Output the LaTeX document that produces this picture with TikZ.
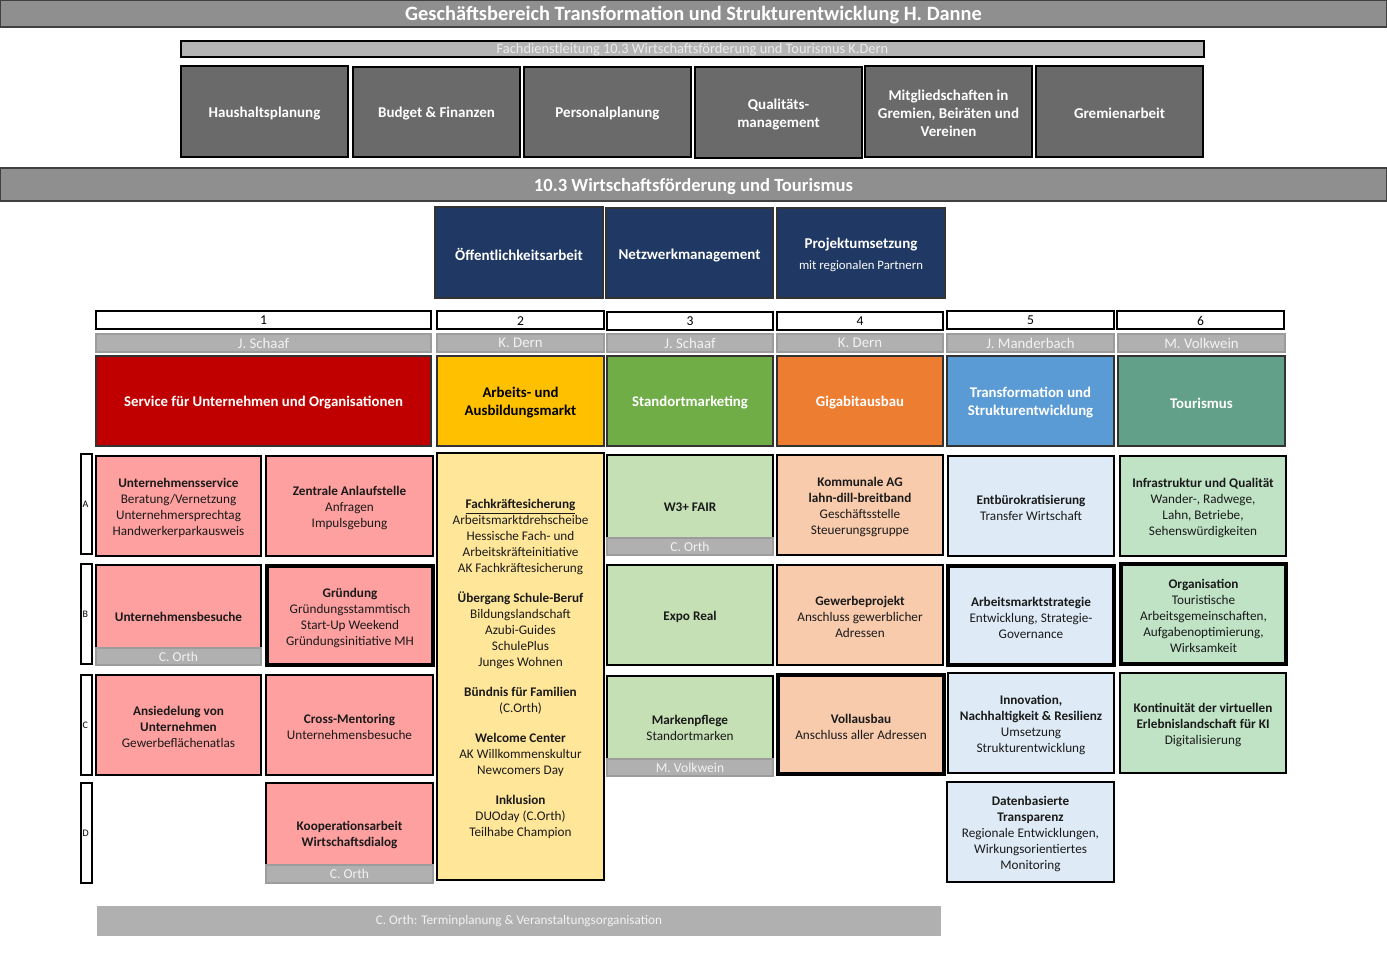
\documentclass[tikz,border=0pt]{standalone}
\usepackage{fontspec}
\setmainfont{Carlito}
\definecolor{barGray}{HTML}{8F8F8F}
\definecolor{fdGray}{HTML}{B4B4B4}
\definecolor{darkBox}{HTML}{6A6A6A}
\definecolor{navy}{HTML}{1F3864}
\definecolor{nameGray}{HTML}{B0B0B0}
\definecolor{nameBorder}{HTML}{9C9C9C}
\definecolor{hRed}{HTML}{C00000}
\definecolor{hYellow}{HTML}{FFC000}
\definecolor{hGreen}{HTML}{70AD47}
\definecolor{hOrange}{HTML}{ED7D31}
\definecolor{hBlue}{HTML}{5B9BD5}
\definecolor{hTeal}{HTML}{62A089}
\definecolor{cPink}{HTML}{FFA0A0}
\definecolor{cYellow}{HTML}{FFE699}
\definecolor{cGreen}{HTML}{C5E0B4}
\definecolor{cOrange}{HTML}{F8CBAD}
\definecolor{cBlue}{HTML}{DEEBF7}
\definecolor{cMint}{HTML}{C0E3C6}
\definecolor{textDark}{HTML}{1A1A1A}
\newcommand\myfs[2]{\fontsize{#1}{#2}\selectfont}
\newcommand\bx[7]{%
  \node[#6, minimum width={(#4-#2)*0.5pt}, minimum height={(#5-#3)*0.5pt}] (#1) at ({(#2+#4)/2},{(#3+#5)/2}) {};
  \node[#6, draw=none, fill=none, minimum width=0pt, minimum height=0pt, tnode] (#1-t) at (#1.center) {#7};}
\tikzset{
  tnode/.style={yshift=-1pt},
  base/.style={inner sep=0pt, outer sep=0pt, align=center, line width=1pt, draw=black},
  topbar/.style={base, fill=barGray, draw=black!75, text=white, font=\bfseries\myfs{10.2}{12}},
  fdbar/.style={base, fill=fdGray, draw=black, line width=1.2pt, text=white!92!black, font=\myfs{7.2}{8}, tnode/.style={yshift=-0.3pt}},
  darkbox/.style={base, fill=darkBox, draw=black, line width=1.2pt, text=white, font=\bfseries\myfs{7.5}{9}},
  navybox/.style={base, fill=navy, draw=black!80, line width=1.2pt, text=white, font=\bfseries\myfs{7.5}{9}},
  numbox/.style={base, fill=white, draw=black, line width=1.2pt, font=\myfs{6.8}{8}, tnode/.style={yshift=-0.3pt}},
  namebar/.style={base, fill=nameGray, draw=nameBorder, text=white!95!black, font=\myfs{7.4}{8}, tnode/.style={yshift=0pt}},
  headbox/.style={base, draw=black!80, text=white, font=\bfseries\myfs{7.4}{9}},
  cell/.style={base, text=textDark, font=\myfs{6.6}{8}},
  thick cell/.style={cell, line width=2pt},
  strip/.style={base, fill=nameGray, draw=nameBorder, text=white!95!black, font=\myfs{6.8}{8}, tnode/.style={yshift=0pt}},
  rowlab/.style={base, fill=white, draw=black, line width=1.2pt},
  rowletter/.style={inner sep=0.6pt, anchor=west, font=\myfs{5}{6}},
  bottombar/.style={base, draw=none, fill=nameGray, text=white!95!black, font=\myfs{6.6}{8}, tnode/.style={yshift=0pt}}
}
\begin{document}
\begin{tikzpicture}[x=0.5pt, y=-0.5pt]
\useasboundingbox (0,0) rectangle (1387,960);
% top
\bx{top}{0}{0}{1387}{27}{topbar}{Geschäftsbereich Transformation und Strukturentwicklung H. Danne}
\bx{fd}{181}{41}{1204}{57}{fdbar}{Fachdienstleitung 10.3 Wirtschaftsförderung und Tourismus K.Dern}
\bx{d1}{181}{66}{348}{157}{darkbox}{Haushaltsplanung}
\bx{d2}{353}{67}{520}{157}{darkbox}{Budget \& Finanzen}
\bx{d3}{524}{67}{691}{157}{darkbox}{Personalplanung}
\bx{d4}{695}{67}{862}{158}{darkbox}{Qualitäts-\\management}
\bx{d5}{865}{66}{1032}{157}{darkbox}{Mitgliedschaften in\\Gremien, Beiräten und\\Vereinen}
\bx{d6}{1036}{66}{1203}{157}{darkbox}{Gremienarbeit}
\bx{wf}{0}{168}{1387}{201}{topbar, font=\bfseries\myfs{9.3}{10}}{10.3 Wirtschaftsförderung und Tourismus}
% navy
\bx{n1}{435}{207}{603}{298}{navybox}{Öffentlichkeitsarbeit}
\bx{n2}{606}{208}{773}{298}{navybox}{Netzwerkmanagement}
\bx{n3}{777}{208}{945}{298}{navybox}{Projektumsetzung\\[1.5pt]{\mdseries\myfs{6.4}{7}mit regionalen Partnern}}
% numbers
\bx{k1}{96}{311}{431}{329}{numbox}{1}
\bx{k2}{437}{311}{604}{329}{numbox}{2}
\bx{k3}{607}{312}{773}{330}{numbox}{3}
\bx{k4}{777}{312}{943}{330}{numbox}{4}
\bx{k5}{947}{311}{1114}{329}{numbox}{5}
\bx{k6}{1117}{311}{1284}{329}{numbox}{6}
% names
\bx{m1}{96}{334}{431}{352}{namebar}{J. Schaaf}
\bx{m2}{437}{334}{604}{352}{namebar}{K. Dern}
\bx{m3}{607}{334}{773}{352}{namebar}{J. Schaaf}
\bx{m4}{777}{334}{943}{352}{namebar}{K. Dern}
\bx{m5}{947}{334}{1114}{352}{namebar}{J. Manderbach}
\bx{m6}{1118}{334}{1285}{352}{namebar}{M. Volkwein}
% headers
\bx{h1}{96}{356}{431}{446}{headbox, fill=hRed}{Service für Unternehmen und Organisationen}
\bx{h2}{437}{356}{604}{446}{headbox, fill=hYellow, text=black}{Arbeits- und\\Ausbildungsmarkt}
\bx{h3}{607}{356}{773}{446}{headbox, fill=hGreen}{Standortmarketing}
\bx{h4}{777}{356}{943}{446}{headbox, fill=hOrange}{Gigabitausbau}
\bx{h5}{947}{356}{1114}{446}{headbox, fill=hBlue}{Transformation und\\Strukturentwicklung}
\bx{h6}{1118}{356}{1285}{446}{headbox, fill=hTeal}{Tourismus}
% row labels
\bx{rA}{81}{454}{92}{554}{rowlab}{}
\bx{rB}{81}{564}{92}{664}{rowlab}{}
\bx{rC}{81}{675}{92}{775}{rowlab}{}
\bx{rD}{81}{783}{92}{883}{rowlab}{}
\node[rowletter] (lA) at (rA.west) {A};
\node[rowletter] (lB) at (rB.west) {B};
\node[rowletter] (lC) at (rC.west) {C};
\node[rowletter] (lD) at (rD.west) {D};
% column 1
\bx{a1}{96}{456}{261}{556}{cell, fill=cPink}{\textbf{Unternehmensservice}\\Beratung/Vernetzung\\Unternehmersprechtag\\Handwerkerparkausweis}
\bx{a2}{266}{456}{433}{556}{cell, fill=cPink}{\textbf{Zentrale Anlaufstelle}\\Anfragen\\Impulsgebung}
\bx{b1}{96}{565}{261}{665}{cell, fill=cPink}{\textbf{Unternehmensbesuche}}
\bx{b1s}{96}{648}{261}{665}{strip}{C. Orth}
\bx{b2}{267}{566}{433}{665}{thick cell, fill=cPink}{\textbf{Gründung}\\Gründungsstammtisch\\Start-Up Weekend\\Gründungsinitiative MH}
\bx{c1}{96}{675}{261}{775}{cell, fill=cPink}{\textbf{Ansiedelung von}\\\textbf{Unternehmen}\\Gewerbeflächenatlas}
\bx{c2}{266}{675}{433}{775}{cell, fill=cPink}{\textbf{Cross-Mentoring}\\Unternehmensbesuche}
\bx{d1c}{266}{783}{433}{883}{cell, fill=cPink}{\textbf{Kooperationsarbeit}\\\textbf{Wirtschaftsdialog}}
\bx{d1s}{266}{865}{433}{883}{strip}{C. Orth}
% column 2
\bx{y}{437}{453}{604}{880}{cell, fill=cYellow}{\underline{\textbf{Fachkräftesicherung}}\\Arbeitsmarktdrehscheibe\\Hessische Fach- und\\Arbeitskräfteinitiative\\AK Fachkräftesicherung\\[7pt]\textbf{Übergang Schule-Beruf}\\Bildungslandschaft\\Azubi-Guides\\SchulePlus\\Junges Wohnen\\[7pt]\textbf{Bündnis für Familien}\\(C.Orth)\\[7pt]\textbf{Welcome Center}\\AK Willkommenskultur\\Newcomers Day\\[7pt]\textbf{Inklusion}\\DUOday (C.Orth)\\Teilhabe Champion}
% column 3
\bx{g1}{607}{455}{773}{555}{cell, fill=cGreen}{\textbf{W3+ FAIR}}
\bx{g1s}{607}{538}{773}{555}{strip}{C. Orth}
\bx{g2}{607}{565}{773}{665}{cell, fill=cGreen}{\textbf{Expo Real}}
\bx{g3}{607}{676}{773}{776}{cell, fill=cGreen}{\textbf{Markenpflege}\\Standortmarken}
\bx{g3s}{607}{759}{773}{776}{strip}{M. Volkwein}
% column 4
\bx{o1}{777}{455}{943}{555}{cell, fill=cOrange}{\textbf{Kommunale AG}\\\textbf{lahn-dill-breitband}\\Geschäftsstelle\\Steuerungsgruppe}
\bx{o2}{777}{565}{943}{665}{cell, fill=cOrange}{\textbf{Gewerbeprojekt}\\Anschluss gewerblicher\\Adressen}
\bx{o3}{778}{675}{944}{774}{thick cell, fill=cOrange}{\textbf{Vollausbau}\\Anschluss aller Adressen}
% column 5
\bx{t1}{948}{456}{1114}{556}{cell, fill=cBlue}{\textbf{Entbürokratisierung}\\Transfer Wirtschaft}
\bx{t2}{948}{566}{1114}{665}{thick cell, fill=cBlue}{\textbf{Arbeitsmarktstrategie}\\Entwicklung, Strategie-\\Governance}
\bx{t3}{948}{673}{1114}{773}{cell, fill=cBlue}{\textbf{Innovation,}\\\textbf{Nachhaltigkeit \& Resilienz}\\Umsetzung\\Strukturentwicklung}
\bx{t4}{947}{782}{1114}{882}{cell, fill=cBlue}{\textbf{Datenbasierte}\\\textbf{Transparenz}\\Regionale Entwicklungen,\\Wirkungsorientiertes\\Monitoring}
% column 6
\bx{u1}{1120}{456}{1286}{556}{cell, fill=cMint}{\textbf{Infrastruktur und Qualität}\\Wander-, Radwege,\\Lahn, Betriebe,\\Sehenswürdigkeiten}
\bx{u2}{1121}{564}{1286}{664}{thick cell, fill=cMint}{\textbf{Organisation}\\Touristische\\Arbeitsgemeinschaften,\\Aufgabenoptimierung,\\Wirksamkeit}
\bx{u3}{1120}{673}{1286}{773}{cell, fill=cMint}{\textbf{Kontinuität der virtuellen}\\\textbf{Erlebnislandschaft für KI}\\Digitalisierung}
% bottom
\bx{bot}{97}{906}{941}{936}{bottombar}{C. Orth: Terminplanung \& Veranstaltungsorganisation}
\end{tikzpicture}
\end{document}
